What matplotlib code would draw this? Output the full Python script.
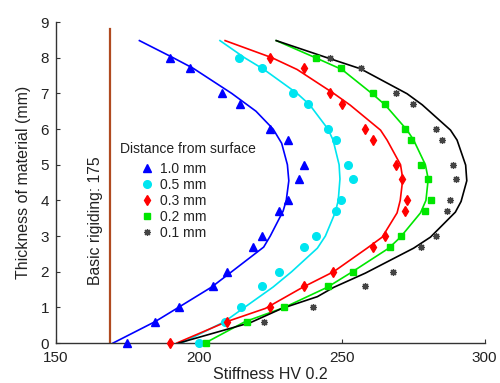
import matplotlib
matplotlib.use("Agg")
import matplotlib.pyplot as plt

plt.rcParams['font.family'] = ['Liberation Sans', 'DejaVu Sans']

# ---- data ----
levels = [0, 0.6, 1.0, 1.6, 2.0, 2.7, 3.0, 3.7, 4.0, 4.6, 5.0, 5.7, 6.0, 6.7, 7.0, 7.7, 8.0]

pts_10 = [174.7, 184.7, 192.9, 204.8, 209.8, 218.9, 222.1, 227.9, 231.1, 234.9, 236.9,
          231.1, 225.0, 214.5, 208.1, 197.0, 190.0]
pts_05 = [199.9, 209.0, 214.8, 222.1, 227.9, 236.9, 241.0, 248.0, 249.8, 254.0, 252.1,
          248.0, 245.1, 238.1, 233.0, 222.1, 213.9]
pts_03 = [190.0, 209.8, 225.0, 236.9, 246.9, 261.0, 265.1, 272.1, 272.9, 271.2, 269.1,
          261.0, 258.0, 250.1, 246.0, 236.9, 225.0]
pts_02 = [202.5, 216.8, 229.7, 245.1, 253.9, 266.8, 270.9, 279.1, 281.1, 280.3, 277.9,
          274.1, 272.0, 265.1, 261.0, 249.9, 241.0]
levels_01 = levels[1:]
pts_01 = [222.8, 240.0, 258.1, 268.0, 277.9, 283.1, 286.9, 287.9, 290.1, 289.0,
          285.0, 282.9, 275.0, 269.1, 256.6, 245.8]

# fitted curves (x, y)
fit_10_x = [170.0, 184.7, 192.9, 204.5, 211.5, 222.7, 225.0, 229.5, 230.6, 231.5, 231.0,
            229.0, 226.0, 220.0, 211.5, 198.1, 191.0, 179.2]
fit_10_y = [0, 0.6, 1.0, 1.57, 2.0, 2.69, 3.0, 3.7, 4.0, 4.55, 5.0, 5.6, 6.0, 6.5, 7.0,
            7.7, 8.0, 8.48]
fit_05_x = [194.0, 209.0, 216.0, 226.0, 232.5, 241.5, 244.3, 247.8, 248.8, 249.4, 249.1,
            247.0, 245.2, 238.8, 234.4, 222.8, 216.0, 207.4]
fit_05_y = [0, 0.6, 1.0, 1.57, 2.0, 2.66, 3.0, 3.67, 4.0, 4.6, 5.0, 5.69, 6.0, 6.68, 7.0,
            7.67, 8.0, 8.48]
fit_03_x = [192.3, 209.8, 223.3, 236.3, 247.2, 258.9, 264.2, 269.4, 270.5, 271.4, 270.6,
            265.9, 263.6, 253.0, 247.2, 234.4, 225.6, 209.2]
fit_03_y = [0, 0.6, 0.97, 1.56, 2.0, 2.66, 2.97, 3.65, 4.0, 4.6, 5.0, 5.69, 5.97, 6.67,
            7.0, 7.67, 8.0, 8.48]
fit_02_x = [202.2, 216.2, 229.7, 244.9, 253.6, 266.5, 270.6, 277.6, 279.5, 280.3, 279.3,
            275.2, 272.9, 265.3, 261.0, 250.1, 241.4, 227.1]
fit_02_y = [0, 0.6, 0.99, 1.56, 1.99, 2.66, 2.97, 3.65, 4.0, 4.6, 5.0, 5.69, 5.97, 6.67,
            6.97, 7.67, 7.98, 8.48]
fit_01_x = [193.0, 218.0, 229.1, 241.5, 247.2, 258.3, 275.2, 281.1, 289.8, 291.8, 293.8,
            293.4, 290.4, 288.1, 278.2, 272.9, 256.6, 244.9, 227.1]
fit_01_y = [0, 0.57, 0.97, 1.3, 1.56, 1.96, 2.66, 2.97, 3.67, 3.97, 4.55, 4.99, 5.69,
            5.97, 6.68, 6.99, 7.69, 8.0, 8.48]

basic_x = 169.0
basic_top = 8.8

labels = ['1.0 mm', '0.5 mm', '0.3 mm', '0.2 mm', '0.1 mm']
colors = ['#0000FF', '#00E5F0', '#FF0000', '#00E600', '#000000']

# ---- figure ----
fig = plt.figure(figsize=(5.0, 3.83), dpi=100)
ax = fig.add_axes([0.112, 0.1044, 0.857, 0.838])

ax.plot([basic_x, basic_x], [0, basic_top], color='#B04A20', lw=1.6)
ax.text(163.8, 3.42, 'Basic rigiding: 175', rotation=90, ha='center', va='center',
        fontsize=11.3, color='#222222')

fits = [(fit_10_x, fit_10_y), (fit_05_x, fit_05_y), (fit_03_x, fit_03_y),
        (fit_02_x, fit_02_y), (fit_01_x, fit_01_y)]
for (fx, fy), c in zip(fits, colors):
    ax.plot(fx, fy, color=c, lw=1.2, zorder=2)

h1, = ax.plot(pts_10, levels, ls='none', marker='^', ms=6, color='#0000FF', clip_on=False, zorder=3)
h2, = ax.plot(pts_05, levels, ls='none', marker='o', ms=5.5, color='#00E5F0', clip_on=False, zorder=3)
h3, = ax.plot(pts_03, levels, ls='none', marker='d', ms=5.5, color='#FF0000', clip_on=False, zorder=3)
h4, = ax.plot(pts_02, levels, ls='none', marker='s', ms=4.5, color='#00E600', clip_on=False, zorder=3)
h5, = ax.plot(pts_01, levels_01, ls='none', marker=(8, 2, 0), ms=5, mew=0.9,
              color='#444444', clip_on=False, zorder=3)

ax.set_xlim(150, 300)
ax.set_ylim(0, 9)
ax.set_xticks([150, 200, 250, 300])
ax.set_yticks(range(0, 10))
ax.tick_params(direction='in', length=3, labelsize=11, colors='#333333',
               labelcolor='#222222')
ax.tick_params(axis='x', pad=6)
ax.tick_params(axis='y', pad=5)
for s in ['top', 'right']:
    ax.spines[s].set_visible(False)
for s in ['left', 'bottom']:
    ax.spines[s].set_color('#333333')
    ax.spines[s].set_linewidth(1.0)

ax.set_xlabel('Stiffness HV 0.2', fontsize=11.5, color='#222222', labelpad=1)
ax.set_ylabel('Thickness of material (mm)', fontsize=11.5, color='#222222', labelpad=7)

leg = ax.legend([h1, h2, h3, h4, h5], labels, title='Distance from surface',
                loc='upper left', bbox_to_anchor=(0.149, 0.625), frameon=False,
                fontsize=10, title_fontsize=10, alignment='left',
                handlelength=3.9, handletextpad=-1.0, labelspacing=0.14,
                borderpad=0.0, borderaxespad=0.0)
leg._legend_box.sep = 4
for t in leg.get_texts():
    t.set_color('#222222')
leg.get_title().set_color('#222222')

fig.savefig('out.png', dpi=100)
